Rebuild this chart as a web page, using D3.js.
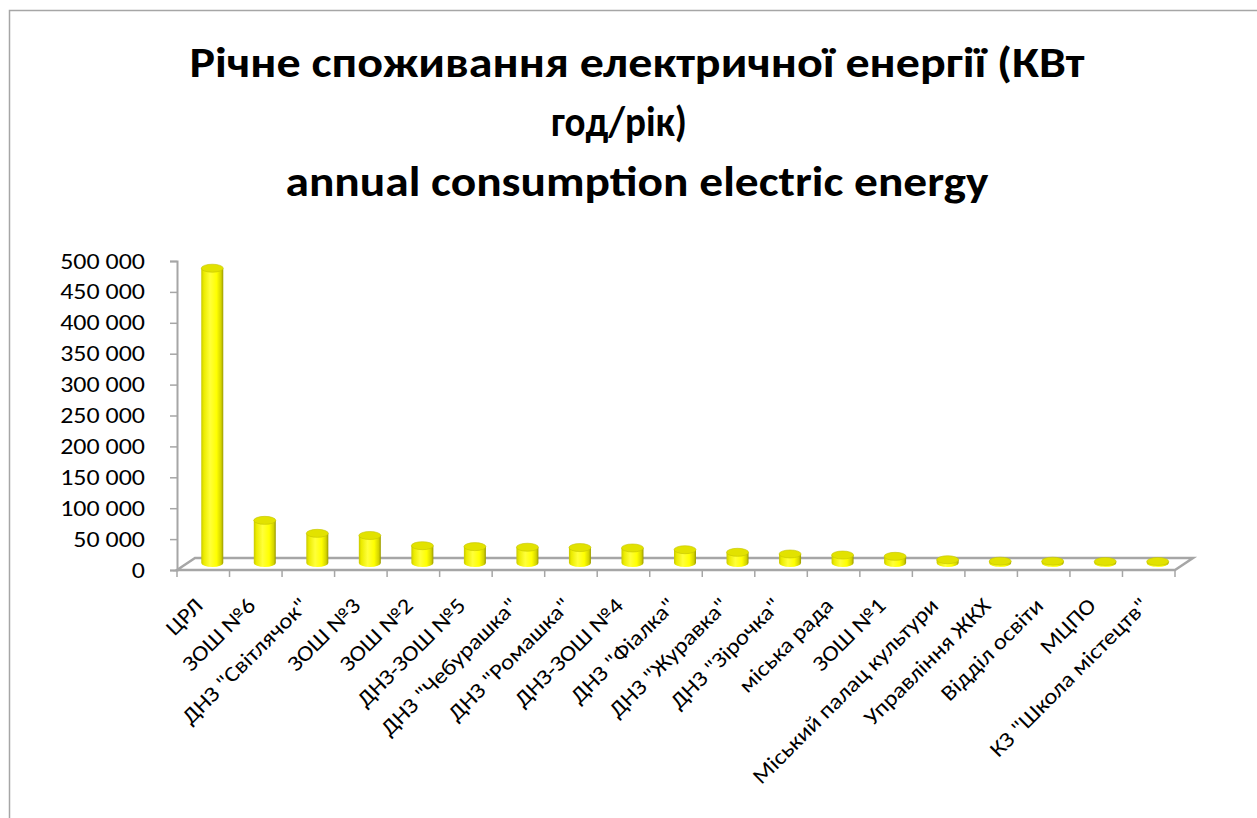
<!DOCTYPE html>
<html>
<head>
<meta charset="utf-8">
<script src="https://cdn.jsdelivr.net/npm/d3@7"></script>
<style>
  body { margin: 0; background: #fff; }
  text { font-family: Carlito, Calibri, Lato, "Open Sans", sans-serif; fill: #000; }
</style>
</head>
<body>
<svg id="chart" width="1257" height="818"></svg>
<script>
// categories (institutions) and annual consumption, kWh
const categories = [
    "ЦРЛ", "ЗОШ №6", "ДНЗ \"Світлячок\"", "ЗОШ №3", "ЗОШ №2", "ДНЗ-ЗОШ №5",
    "ДНЗ \"Чебурашка\"", "ДНЗ \"Ромашка\"", "ДНЗ-ЗОШ №4", "ДНЗ \"Фіалка\"",
    "ДНЗ \"Журавка\"", "ДНЗ \"Зірочка\"", "міська рада", "ЗОШ №1",
    "Міський палац культури", "Управління ЖКХ", "Відділ освіти", "МЦПО",
    "КЗ \"Школа містецтв\""
];
const values = [
    477000, 69000, 48000, 44500, 28000, 26500,
    25500, 25000, 24300, 21500,
    17300, 14600, 12900, 10800,
    5300, 3000, 3000, 2500,
    2500
];
const yTickValues = [0, 50000, 100000, 150000, 200000, 250000, 300000, 350000, 400000, 450000, 500000];
const titleLines = [
    "Річне споживання електричної енергії (КВт",
    "год/рік)",
    "annual consumption electric energy"
];

const svg = d3.select("#chart");

// widen text a little (reference font is wider than the installed one)
const stretch = (sel, k) => sel.each(function() {
    const w = this.getComputedTextLength();
    d3.select(this).attr("textLength", w * k).attr("lengthAdjust", "spacingAndGlyphs");
});

// chart frame
svg.append("rect")
.attr("x", 9.5).attr("y", 10.5)
.attr("width", 1400).attr("height", 1000)
.attr("fill", "#fff")
.attr("stroke", "#a6a6a6")
.attr("stroke-width", 1.5);

// title, three lines
const titleCx = [637, 619, 637];
const titleY = [77, 136, 196];
const titleW = [895, 136, 703];
svg.selectAll("text.title")
.data(titleLines)
.enter()
.append("text")
.attr("class", "title")
.attr("x", (d, i) => titleCx[i])
.attr("y", (d, i) => titleY[i])
.attr("text-anchor", "middle")
.attr("font-size", 42)
.attr("font-weight", "bold")
.attr("textLength", (d, i) => titleW[i])
.attr("lengthAdjust", "spacingAndGlyphs")
.text(d => d);

// plot geometry
const plotLeft = 177, plotRight = 1175, plotBottom = 570, plotTop = 261;
const depthX = 18, depthY = 12;   // floor depth offset

const x = d3.scaleBand()
.domain(categories)
.range([plotLeft, plotRight]);

const y = d3.scaleLinear()
.domain([0, 500000])
.range([plotBottom, plotTop]);

const fmt = d3.formatLocale({ thousands: " ", grouping: [3], decimal: ",", currency: ["", ""] }).format(",");

// gradient for cylinder body
const defs = svg.append("defs");
const grad = defs.append("linearGradient")
.attr("id", "cyl")
.attr("x1", "0%").attr("x2", "100%").attr("y1", "0%").attr("y2", "0%");
[["0%", "#c9c900"], ["12%", "#ecec00"], ["40%", "#ffff3a"], ["70%", "#ffff00"], ["90%", "#d4d400"], ["100%", "#9a9a00"]]
.forEach(s => grad.append("stop").attr("offset", s[0]).attr("stop-color", s[1]));

const lineColor = "#a6a6a6";

// floor
const floor = svg.append("g");
floor.append("path")
.attr("d", `M${plotLeft},${plotBottom} L${plotLeft + depthX},${plotBottom - depthY} L${plotRight + depthX},${plotBottom - depthY} L${plotRight},${plotBottom} Z`)
.attr("fill", "none")
.attr("stroke", lineColor)
.attr("stroke-width", 2.5);

// category ticks on front edge
floor.selectAll("line.xt")
.data(categories.concat([null]))
.enter()
.append("line")
.attr("x1", (d, i) => plotLeft + i * x.step())
.attr("x2", (d, i) => plotLeft + i * x.step())
.attr("y1", plotBottom)
.attr("y2", plotBottom + 7)
.attr("stroke", lineColor)
.attr("stroke-width", 1.5);

// value axis
const yAxis = d3.axisLeft(y)
.tickValues(yTickValues)
.tickSize(7)
.tickPadding(25)
.tickFormat(fmt);

const gy = svg.append("g")
.attr("transform", `translate(${plotLeft},0)`)
.call(yAxis);
gy.select(".domain").attr("stroke", lineColor).attr("stroke-width", 2);
gy.selectAll(".tick line").attr("stroke", lineColor).attr("stroke-width", 1.5);
gy.selectAll(".tick text")
.attr("font-size", 22)
.attr("font-family", "Carlito, Calibri, Lato, sans-serif")
.attr("fill", "#000")
.call(stretch, 1.18);

// cylinders
const rx = 11, ry = 4;
const bars = svg.append("g")
.selectAll("g")
.data(categories.map((c, i) => ({ name: c, value: values[i] })))
.enter()
.append("g");

const cx = d => x(d.name) + x.bandwidth() / 2 + depthX / 2;
const base = y(0) - 7;
const topY = d => y(d.value) - 7;

bars.append("path")
.attr("d", d => `M${cx(d) - rx},${topY(d)} L${cx(d) - rx},${base} A${rx},${ry} 0 0 0 ${cx(d) + rx},${base} L${cx(d) + rx},${topY(d)} Z`)
.attr("fill", "url(#cyl)");

bars.append("ellipse")
.attr("cx", cx)
.attr("cy", topY)
.attr("rx", rx)
.attr("ry", ry)
.attr("fill", "#e2e200")
.attr("stroke", "#c4c400")
.attr("stroke-width", 0.6);

// category labels, rotated
svg.append("g")
.selectAll("text")
.data(categories)
.enter()
.append("text")
.attr("transform", d => `translate(${x(d) + x.bandwidth() / 2 + 1},${plotBottom + 37}) rotate(-45)`)
.attr("text-anchor", "end")
.attr("font-size", 22)
.text(d => d)
.call(stretch, 1.12);
</script>
</body>
</html>
